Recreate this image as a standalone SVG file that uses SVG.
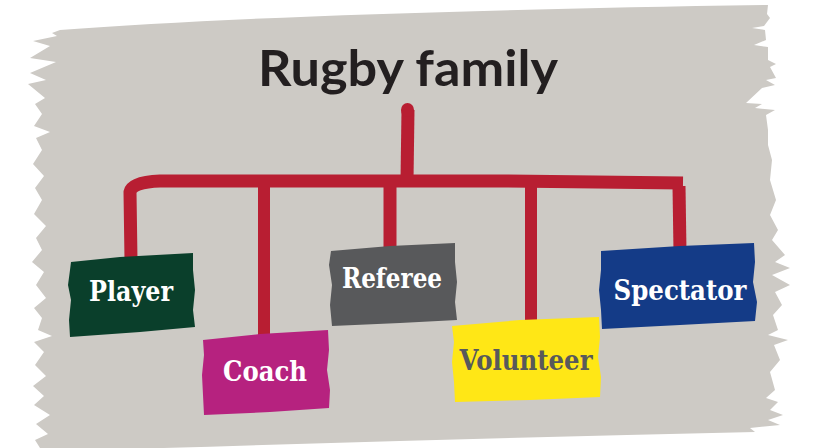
<svg xmlns="http://www.w3.org/2000/svg" width="822" height="448" viewBox="0 0 822 448">
<style>
.bg{fill:#cdcac5}
.conn{stroke:#b81e32;fill:none;stroke-linecap:butt;stroke-linejoin:round}
.title{font-family:Lato,"Open Sans","DejaVu Sans",sans-serif;font-weight:bold;font-size:50px;fill:#231f20}
.lbl{font-family:"DejaVu Serif","Liberation Serif",serif;font-weight:bold;font-size:28px;fill:#ffffff}
.dark{fill:#58595b}
</style>
<rect width="822" height="448" fill="#ffffff"/>
<path class="bg" d="M60,30 Q300,12 768,5 L767,14 L770,18 L764,26 L752,28 L765,30 L766,40 L754,45 L768,47 L768,60 L776,64 L770,67 L776,78 L766,80 L775,85 L762,88 L746,103 L762,104 L755,108 L775,110 L766,115 L768,130 L768,145 L772,160 L770,180 L776,200 L770,215 L778,230 L772,240 L785,255 L775,262 L790,268 L772,275 L790,285 L775,292 L782,305 L773,315 L778,330 L768,335 L788,340 L774,345 L780,360 L770,372 L775,390 L766,398 L778,402 L770,410 L783,415 L768,420 L780,425 L750,428 L755,432 Q400,440 40,452 L30,460 L40,448 L35,440 L48,434 L36,424 L50,415 L34,405 L44,396 L33,386 L46,376 L35,365 L44,352 L34,342 L52,336 L38,330 L42,318 L34,308 L46,298 L36,285 L44,272 L32,262 L42,250 L36,238 L46,226 L34,214 L42,200 L35,188 L44,176 L33,164 L42,150 L36,138 L50,132 L34,126 L42,114 L35,104 L45,98 L28,84 L46,80 L30,73 L56,62 L30,58 L50,46 L33,41 L57,36 L52,33 Z"/>
<text class="title" x="408" y="86" text-anchor="middle" textLength="300" lengthAdjust="spacingAndGlyphs">Rugby family</text>
<g id="connectors">
<path class="conn" stroke-width="13" d="M407,180 L408,110"/>
<path class="conn" stroke-width="13" d="M131,260 L130,192 Q132,182 160,181 L500,181 L683,183"/>
<path class="conn" stroke-width="12" d="M264,335 L264,186"/>
<path class="conn" stroke-width="13" d="M390,250 L390,186"/>
<path class="conn" stroke-width="12" d="M531,322 L531,186"/>
<path class="conn" stroke-width="13" d="M680,252 L679,186"/>
<ellipse cx="407.5" cy="110" rx="6.5" ry="7" fill="#b81e32"/>
</g>
<g id="player">
<path fill="#0a3f2b" d="M71,262 L120,257 L193,253 L193,270 L195,290 L193,310 L195,327 L140,332 L70,337 L69,320 L71,300 L68,285 L70,270 Z"/>
<text class="lbl" x="131" y="301" text-anchor="middle" textLength="84" lengthAdjust="spacingAndGlyphs">Player</text>
</g>
<g id="coach">
<path fill="#b6227f" d="M203,340 L260,334 L328,330 L329,350 L327,370 L330,390 L329,408 L270,412 L204,415 L203,395 L202,375 L204,355 Z"/>
<text class="lbl" x="265" y="381" text-anchor="middle" textLength="84" lengthAdjust="spacingAndGlyphs">Coach</text>
</g>
<g id="referee">
<path fill="#58595b" d="M331,251 L390,246 L455,243 L455,262 L457,282 L455,302 L457,320 L400,323 L332,326 L330,305 L332,285 L329,265 Z"/>
<text class="lbl" x="392" y="288" text-anchor="middle" textLength="100" lengthAdjust="spacingAndGlyphs">Referee</text>
</g>
<g id="volunteer">
<path fill="#ffe716" d="M452,326 L520,320 L599,317 L600,337 L598,357 L601,377 L600,397 L530,400 L455,402 L454,382 L452,362 L454,342 Z"/>
<text class="lbl dark" x="526" y="370" text-anchor="middle" textLength="133" lengthAdjust="spacingAndGlyphs">Volunteer</text>
</g>
<g id="spectator">
<path fill="#143b87" d="M601,251 L680,246 L754,243 L755,262 L753,282 L757,302 L755,321 L680,325 L602,329 L601,310 L599,290 L601,270 Z"/>
<text class="lbl" x="680" y="300" text-anchor="middle" textLength="133" lengthAdjust="spacingAndGlyphs">Spectator</text>
</g>
</svg>
